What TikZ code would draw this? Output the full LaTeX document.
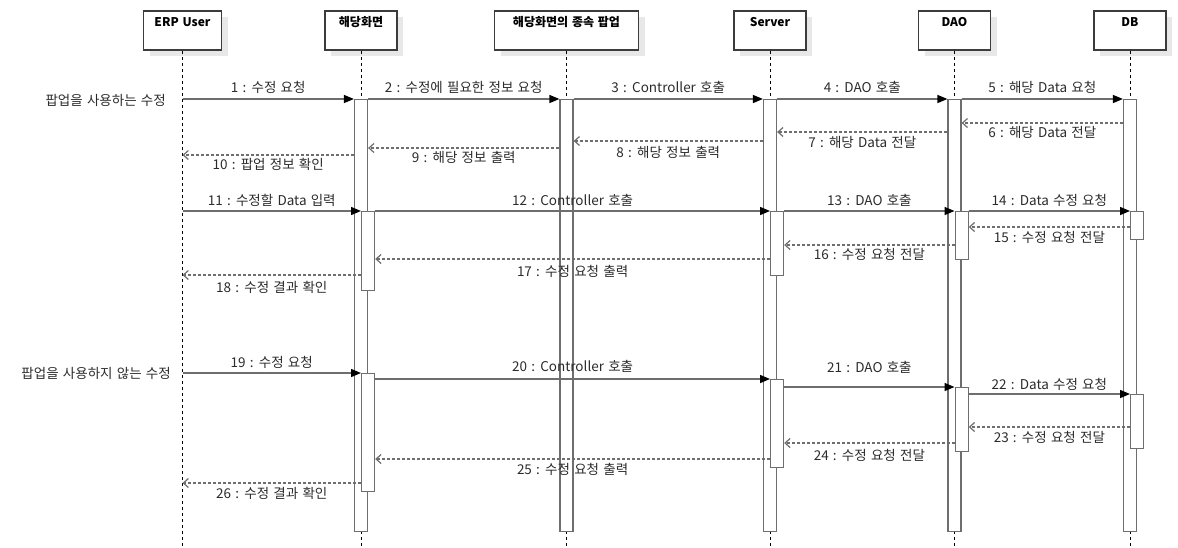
\documentclass[tikz,border=0pt]{standalone}
\usepackage{fontspec}
\setmainfont{Noto Sans CJK KR}[WordSpace=1.4]
\usetikzlibrary{arrows.meta,shadows}

\definecolor{edgegray}{HTML}{6E6E6E}
\definecolor{boxline}{HTML}{3C3C3C}
\definecolor{shadowgray}{HTML}{E8E8E8}
\definecolor{labelink}{HTML}{2B2B2B}

\tikzset{
  headbox/.style={draw=boxline, line width=1.2pt, fill=white,
    minimum height=39pt, inner sep=0pt,
    drop shadow={shadow xshift=6pt, shadow yshift=-6pt, fill=shadowgray, opacity=1}},
  headtitle/.style={anchor=center, yshift=-12pt, text=black,
    font=\bfseries\fontsize{12}{14}\selectfont},
  lifeline/.style={draw=black, line width=0.9pt, dash pattern=on 3pt off 3pt},
  actbar/.style={draw=edgegray, line width=1.2pt, fill=white,
    minimum width=13pt, inner sep=0pt},
  callline/.style={draw=edgegray, line width=1.4pt,
    -{Triangle[length=10pt,width=8pt,color=black]}},
  replyline/.style={draw=edgegray, line width=1.2pt, dash pattern=on 3pt off 2pt,
    -{Straight Barb[length=5pt,width=9pt]}},
  msglabel/.style={text=labelink, inner sep=0pt,
    font=\fontsize{13.5}{15}\selectfont},
  sidelabel/.style={text=labelink, inner sep=0pt, anchor=east,
    font=\fontsize{13.5}{15}\selectfont},
}

% synchronous call: from, to, arrow y, text, text y
\newcommand\callmsg[5]{%
  \draw[callline] (#1 |- 0,#3) -- node[msglabel, midway, yshift={#3pt-#5pt}] {#4} (#2 |- 0,#3);}
% return message: from, to, arrow y, text, text y
\newcommand\replymsg[5]{%
  \draw[replyline] (#1 |- 0,#3) -- node[msglabel, midway, yshift={#3pt-#5pt}] {#4} (#2 |- 0,#3);}

\begin{document}
\begin{tikzpicture}[x=1pt, y=-1pt]
  \useasboundingbox (0,0) rectangle (1178,547);

  % participants
  \node[headbox, minimum width=78pt,  label={[headtitle]north:ERP User}] (h1) at (182.5,30.5) {};
  \node[headbox, minimum width=72pt,  label={[headtitle]north:해당화면}] (h2) at (361,30.5) {};
  \node[headbox, minimum width=144pt, label={[headtitle]north:해당화면의 종속 팝업}] (h3) at (566.5,30.5) {};
  \node[headbox, minimum width=72pt,  label={[headtitle]north:Server}] (h4) at (770,30.5) {};
  \node[headbox, minimum width=72pt,  label={[headtitle]north:DAO}] (h5) at (954.5,30.5) {};
  \node[headbox, minimum width=72pt,  label={[headtitle]north:DB}] (h6) at (1130,30.5) {};

  % lifelines
  \foreach \h in {h1,h2,h3,h4,h5,h6}
    \draw[lifeline] (\h.south) -- (\h.south |- 0,547);

  % long activations
  \node[actbar, anchor=north, minimum height=432pt] (a2) at (361,99) {};
  \node[actbar, anchor=north, minimum height=432pt] (a3) at (566.5,99) {};
  \node[actbar, anchor=north, minimum height=432pt] (a4) at (770,99) {};
  \node[actbar, anchor=north, minimum height=432pt] (a5) at (954.5,99) {};
  \node[actbar, anchor=north, minimum height=432pt] (a6) at (1130,99) {};

  % nested activations, second scenario
  \node[actbar, anchor=north west, minimum height=79pt] (p2) at (361,211) {};
  \node[actbar, anchor=north west, minimum height=64pt] (p4) at (770,211) {};
  \node[actbar, anchor=north west, minimum height=48pt] (p5) at (954.5,211) {};
  \node[actbar, anchor=north west, minimum height=28pt] (p6) at (1130,211) {};

  % nested activations, third scenario
  \node[actbar, anchor=north west, minimum height=118pt] (q2) at (361,373) {};
  \node[actbar, anchor=north west, minimum height=88pt]  (q4) at (770,379) {};
  \node[actbar, anchor=north west, minimum height=64pt]  (q5) at (954.5,387) {};
  \node[actbar, anchor=north west, minimum height=54pt]  (q6) at (1130,394) {};

  % scenario captions
  \node[sidelabel] (s1) at (166,100) {팝업을 사용하는 수정};
  \node[sidelabel] (s2) at (171,373) {팝업을 사용하지 않는 수정};

  % scenario 1
  \callmsg{h1}{a2.west}{99}{1 : 수정 요청}{87}
  \callmsg{a2.east}{a3.west}{99}{2 : 수정에 필요한 정보 요청}{87}
  \callmsg{a3.east}{a4.west}{99}{3 : Controller 호출}{87}
  \callmsg{a4.east}{a5.west}{99}{4 : DAO 호출}{87}
  \callmsg{a5.east}{a6.west}{99}{5 : 해당 Data 요청}{87}
  \replymsg{a6.west}{a5.east}{123}{6 : 해당 Data 전달}{132}
  \replymsg{a5.west}{a4.east}{132}{7 : 해당 Data 전달}{142}
  \replymsg{a4.west}{a3.east}{141}{8 : 해당 정보 출력}{152}
  \replymsg{a3.west}{a2.east}{148}{9 : 해당 정보 출력}{157}
  \replymsg{a2.west}{h1}{155}{10 : 팝업 정보 확인}{164}

  % scenario 2
  \callmsg{h1}{p2.west}{211}{11 : 수정할 Data 입력}{200}
  \callmsg{p2.east}{p4.west}{211}{12 : Controller 호출}{200}
  \callmsg{p4.east}{p5.west}{211}{13 : DAO 호출}{200}
  \callmsg{p5.east}{p6.west}{211}{14 : Data 수정 요청}{200}
  \replymsg{p6.west}{p5.east}{227}{15 : 수정 요청 전달}{237}
  \replymsg{p5.west}{p4.east}{245}{16 : 수정 요청 전달}{254}
  \replymsg{p4.west}{p2.east}{259}{17 : 수정 요청 출력}{271}
  \replymsg{p2.west}{h1}{275}{18 : 수정 결과 확인}{287}

  % scenario 3
  \callmsg{h1}{q2.west}{373}{19 : 수정 요청}{362}
  \callmsg{q2.east}{q4.west}{379}{20 : Controller 호출}{366}
  \callmsg{q4.east}{q5.west}{387}{21 : DAO 호출}{367}
  \callmsg{q5.east}{q6.west}{394}{22 : Data 수정 요청}{384}
  \replymsg{q6.west}{q5.east}{427}{23 : 수정 요청 전달}{437}
  \replymsg{q5.west}{q4.east}{443}{24 : 수정 요청 전달}{455}
  \replymsg{q4.west}{q2.east}{459}{25 : 수정 요청 출력}{469}
  \replymsg{q2.west}{h1}{483}{26 : 수정 결과 확인}{493}
\end{tikzpicture}
\end{document}
